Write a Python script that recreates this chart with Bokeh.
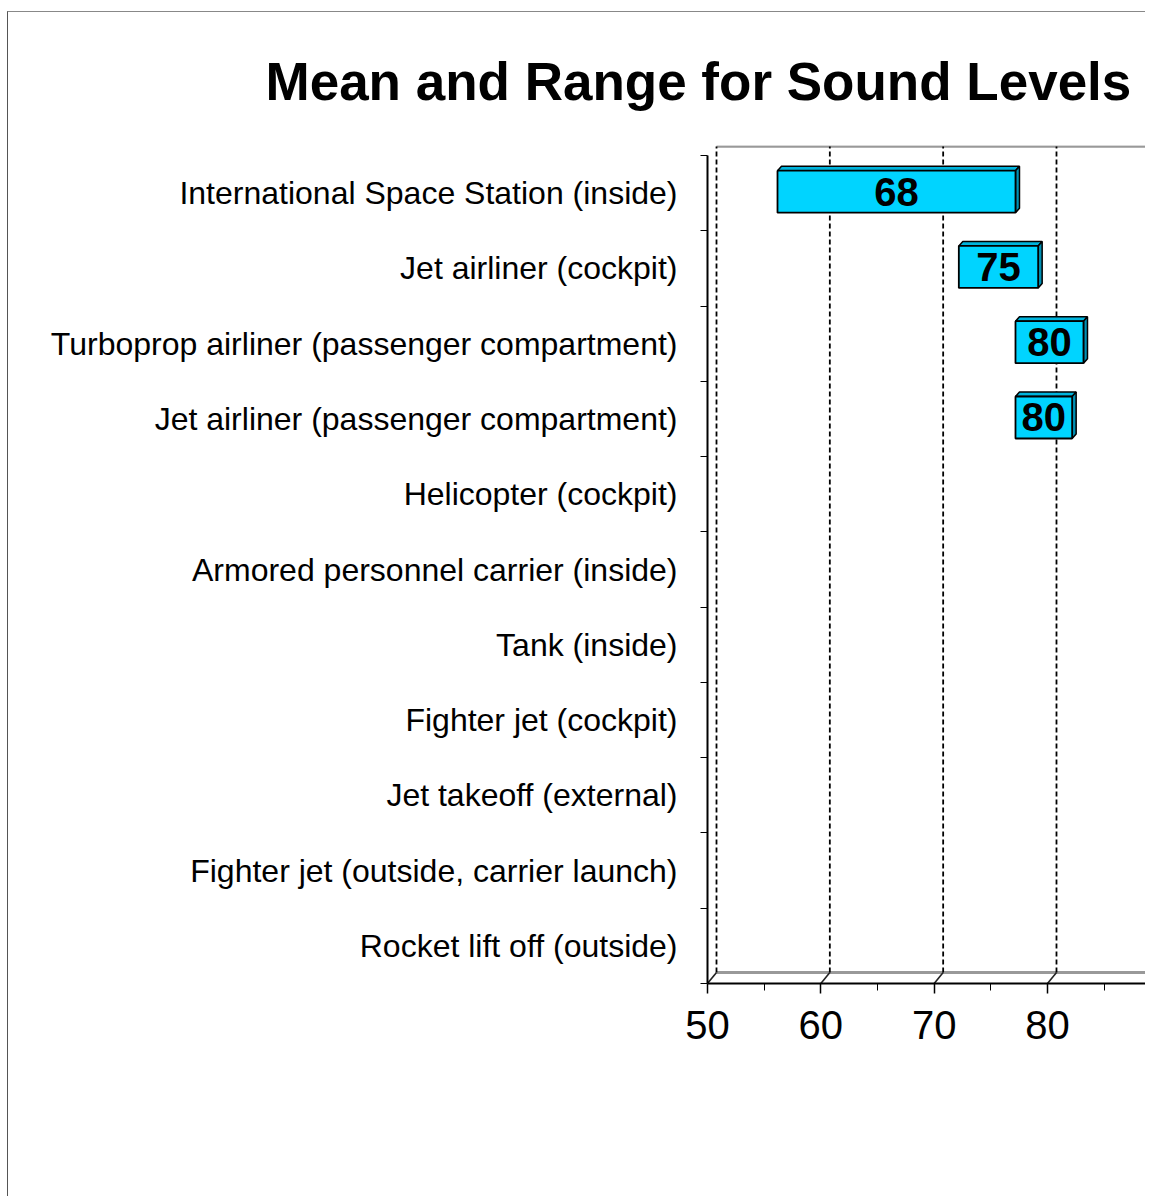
from bokeh.plotting import figure
from bokeh.models import Range1d, LinearAxis, FixedTicker
from bokeh.core.properties import value
from bokeh.embed import file_html
from bokeh.resources import INLINE

# ---------------- data ----------------
TITLE = "Mean and Range for Sound Levels"
categories = [
    "International Space Station (inside)",
    "Jet airliner (cockpit)",
    "Turboprop airliner (passenger compartment)",
    "Jet airliner (passenger compartment)",
    "Helicopter (cockpit)",
    "Armored personnel carrier (inside)",
    "Tank (inside)",
    "Fighter jet (cockpit)",
    "Jet takeoff (external)",
    "Fighter jet (outside, carrier launch)",
    "Rocket lift off (outside)",
]
low = [56, 72, 77, 77, 95, 100, 105, 110, 120, 130, 150]
high = [77, 79, 83, 82, 105, 115, 120, 120, 140, 150, 180]
mean = [68, 75, 80, 80, 100, 108, 112, 115, 130, 140, 165]
x_ticks = [50, 60, 70, 80, 90, 100, 110, 120, 130, 140, 150, 160, 170, 180]
x_minor = [55, 65, 75, 85, 95, 105, 115, 125, 135, 145, 155, 165, 175]

# ---------------- layout (pixels) ----------------
FIG_W, FIG_H = 1138, 1185
LEFT, TOP, FRAME_H = 699, 133, 838
PX_PER_X = 11.333      # pixels per dB
BAND_PX = 75.27        # pixels per category band
X0 = 50

ux = 1.0 / PX_PER_X
uy = 1.0 / BAND_PX
x_end = X0 + (FIG_W - LEFT) * ux
y_end = FRAME_H * uy

WALL_DX, WALL_DY = 9 * ux, 11 * uy
BAR_DX, BAR_DY = 4 * ux, 4.5 * uy
FACE_SHIFT = 2 * ux
FACE_UP = 1.5 * uy
BAR_H = 42 * uy

FONT = "Liberation Sans"
FRONT = "#00D4FF"
TOPC = "#00B4DC"
SIDE = "#0090B4"

n = len(categories)
yc = [n - i - 0.5 for i in range(n)]

p = figure(width=FIG_W, height=FIG_H,
           x_range=Range1d(X0, x_end), y_range=Range1d(0, y_end),
           output_backend="svg", toolbar_location=None,
           x_axis_type=None, y_axis_type=None,
           min_border_left=LEFT, min_border_top=TOP, min_border_right=0,
           min_border_bottom=FIG_H - TOP - FRAME_H)
p.outline_line_color = None
p.background_fill_color = "white"
p.border_fill_color = "white"
p.xgrid.visible = False
p.ygrid.visible = False
p.styles = {"margin-top": "11px", "margin-left": "7px",
            "border-left": "1px solid #555", "border-top": "1px solid #888"}

# ---------------- title ----------------
p.title.text = TITLE
p.title.align = "left"
p.title.offset = 265 - 707
p.title.text_font = FONT
p.title.text_font_style = "bold"
p.title.text_font_size = "53px"
p.title.text_color = "black"
p.title.standoff = 70

# ---------------- 3D walls ----------------
wall_top = y_end - 1.0 * uy
p.segment(x0=[X0 + WALL_DX], y0=[wall_top], x1=[x_end + 5], y1=[wall_top],
          line_color="#999999", line_width=2.5)
p.segment(x0=[X0 + WALL_DX], y0=[WALL_DY], x1=[x_end + 5], y1=[WALL_DY],
          line_color="#999999", line_width=3)
gx = [t + WALL_DX for t in x_ticks]
p.segment(x0=gx, y0=[WALL_DY] * len(gx), x1=gx, y1=[wall_top] * len(gx),
          line_color="black", line_width=1.8, line_dash="5 3")
p.segment(x0=x_ticks, y0=[0] * len(x_ticks), x1=gx, y1=[WALL_DY] * len(gx),
          line_color="#222222", line_width=1.6)

# ---------------- bars ----------------
fl = [l + FACE_SHIFT for l in low]
fr = [h + FACE_SHIFT for h in high]
fb = [y + FACE_UP - BAR_H / 2 for y in yc]
ft = [y + FACE_UP + BAR_H / 2 for y in yc]

top_xs = [[l, l + BAR_DX, r + BAR_DX, r] for l, r in zip(fl, fr)]
top_ys = [[t, t + BAR_DY, t + BAR_DY, t] for t in ft]
side_xs = [[r, r + BAR_DX, r + BAR_DX, r] for r in fr]
side_ys = [[b, b + BAR_DY, t + BAR_DY, t] for b, t in zip(fb, ft)]

p.patches(xs=top_xs, ys=top_ys, fill_color=TOPC, line_color="black", line_width=1.5)
p.patches(xs=side_xs, ys=side_ys, fill_color=SIDE, line_color="black", line_width=1.5)
p.quad(left=fl, right=fr, bottom=fb, top=ft, fill_color=FRONT,
       line_color="black", line_width=1.8)

# value labels (only for bars whose centre lies inside the visible range)
vis = [i for i in range(n) if (fl[i] + fr[i]) / 2 < x_end]
p.text(x=[(fl[i] + fr[i]) / 2 for i in vis], y=[(fb[i] + ft[i]) / 2 for i in vis],
       text=[str(mean[i]) for i in vis], text_font=value(FONT), text_font_style="bold",
       text_font_size="40px", text_align="center", text_baseline="middle",
       text_color="black")

# ---------------- axes ----------------
xaxis = LinearAxis(ticker=FixedTicker(ticks=[t for t in x_ticks if t <= x_end],
                                      minor_ticks=[t for t in x_minor if t <= x_end]))
xaxis.axis_line_color = "black"
xaxis.axis_line_width = 2
xaxis.major_tick_line_color = "black"
xaxis.major_tick_line_width = 1.5
xaxis.major_tick_in = 0
xaxis.major_tick_out = 10
xaxis.minor_tick_line_color = "black"
xaxis.minor_tick_line_width = 1
xaxis.minor_tick_in = 0
xaxis.minor_tick_out = 7
xaxis.major_label_text_font = FONT
xaxis.major_label_text_font_size = "40px"
xaxis.major_label_text_color = "black"
xaxis.major_label_standoff = 17
p.add_layout(xaxis, "below")

bounds = list(range(n + 1))
yaxis = LinearAxis(ticker=FixedTicker(ticks=yc, minor_ticks=bounds), bounds=(0, n))
yaxis.axis_line_color = "black"
yaxis.axis_line_width = 2
yaxis.major_tick_line_color = None
yaxis.major_tick_in = 0
yaxis.major_tick_out = 0
yaxis.minor_tick_line_color = "black"
yaxis.minor_tick_line_width = 1
yaxis.minor_tick_in = 0
yaxis.minor_tick_out = 7
yaxis.major_label_overrides = {y: c for y, c in zip(yc, categories)}
yaxis.major_label_text_font = FONT
yaxis.major_label_text_font_size = "32px"
yaxis.major_label_text_color = "black"
yaxis.major_label_standoff = 23
p.add_layout(yaxis, "left")

open("out.html", "w").write(file_html(p, INLINE))
